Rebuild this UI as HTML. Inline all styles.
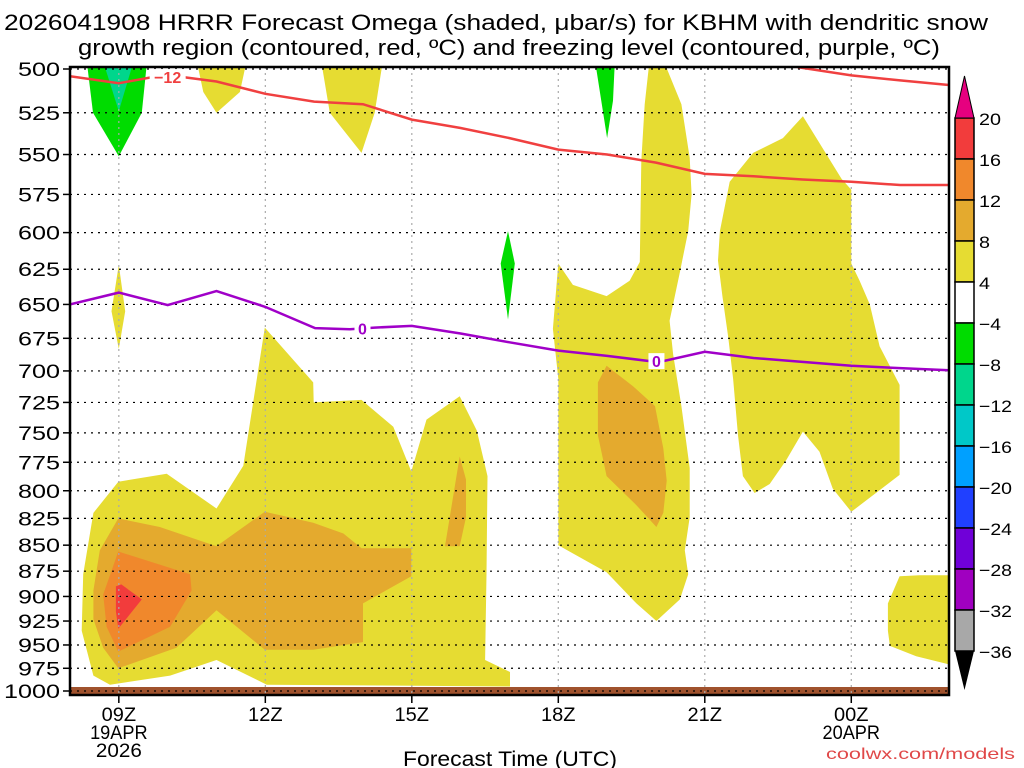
<!DOCTYPE html>
<html><head><meta charset="utf-8"><title>HRRR Omega KBHM</title>
<style>
html,body{margin:0;padding:0;background:#fff;}
svg{display:block;font-family:"Liberation Sans",sans-serif;}
</style></head>
<body>
<svg id="chart" width="1024" height="768" viewBox="0 0 1024 768" xmlns="http://www.w3.org/2000/svg">
<defs><clipPath id="plotclip"><rect x="70" y="67" width="879" height="628"/></clipPath></defs>
<g>
<text x="496" y="30" font-size="22" text-anchor="middle" textLength="984" lengthAdjust="spacingAndGlyphs">2026041908 HRRR Forecast Omega (shaded, μbar/s) for KBHM with dendritic snow</text>
<text x="509" y="55" font-size="22" text-anchor="middle" textLength="862" lengthAdjust="spacingAndGlyphs">growth region (contoured, red, ºC) and freezing level (contoured, purple, ºC)</text>
</g>
<g id="fills" clip-path="url(#plotclip)"></g>
<g id="grid"></g>
<g id="lines" clip-path="url(#plotclip)"></g>
<g id="axes"></g>
<g id="cbar"></g>
<text x="510" y="766" font-size="21" text-anchor="middle" textLength="214" lengthAdjust="spacingAndGlyphs">Forecast Time (UTC)</text>
<text x="1015" y="759" font-size="16" fill="#e04848" text-anchor="end" textLength="189" lengthAdjust="spacingAndGlyphs">coolwx.com/models</text>
</svg>
<script>
// ---- data (hours after 08Z, pressure hPa) ----
const pressureTicks = [500,525,550,575,600,625,650,675,700,725,750,775,800,825,850,875,900,925,950,975,1000];
const timeTicks = [1,4,7,10,13,16];
const timeLabels = [["09Z","19APR","2026"],["12Z"],["15Z"],["18Z"],["21Z"],["00Z","20APR"]];
const shadeLevels = [20,16,12,8,4,-4,-8,-12,-16,-20,-24,-28,-32,-36];
const shadeColors = ["#f23c3c","#f0882c","#e4aa2e","#e6dc32","#ffffff","#00dc00","#00d68c","#00c8c8","#00a0ff","#2040ff","#7000d8","#a000c0","#a8a8a8"];

const yellowA = [[0.27,878],[0.48,820],[0.99,792],[1.98,785],[3.0,816],[3.55,778],[3.99,667],[4.98,709],[4.99,725],[5.97,723],[6.62,745],[6.99,783],[7.30,739],[7.98,720],[8.33,748],[8.55,787],[8.53,878],[8.50,966],[9.01,979],[9.01,995],[4.03,993],[3.0,966],[2.05,983],[0.82,993],[0.48,983],[0.24,935]];
const yellowB = [[2.59,495],[3.62,495],[3.48,513],[3.0,525],[2.73,513]];
const yellowC = [[5.14,495],[6.41,495],[6.24,525],[5.97,549],[5.32,525]];
const yellowD = [[1.0,622],[1.13,655],[1.0,683],[0.85,655]];
const yellowE = [[11.87,495],[12.15,495],[12.52,520],[12.69,552],[12.73,575],[12.66,599],[12.49,627],[12.28,662],[12.35,687],[12.52,728],[12.69,780],[12.69,824],[12.59,855],[12.66,878],[12.49,903],[12.01,925],[11.60,907],[10.99,876],[10.0,850],[10.0,706],[9.89,668],[10.0,621],[10.30,636],[10.99,644],[11.46,633],[11.67,620],[11.70,554],[11.77,520]];
const yellowF = [[13.27,619],[13.31,599],[13.51,567],[13.99,549],[14.60,540],[15.01,527],[15.80,565],[16.00,572],[16.00,621],[16.17,633],[16.38,650],[16.58,681],[16.99,711],[16.99,786],[16.00,819],[15.62,798],[15.35,766],[15.01,749],[14.67,773],[14.33,794],[14.02,802],[13.78,787],[13.68,752],[13.58,706],[13.48,674],[13.36,644]];
const yellowG = [[16.75,907],[16.99,880],[17.40,879],[18.1,879],[18.1,972],[17.33,962],[16.79,951],[16.75,935]];
const amberA = [[0.48,894],[0.61,855],[0.99,825],[1.84,833],[3.0,851],[3.99,819],[4.98,829],[5.60,839],[5.97,853],[6.99,853],[6.99,880],[6.00,907],[6.00,947],[4.98,955],[3.99,955],[3.0,914],[2.18,953],[0.99,975],[0.68,953],[0.48,923]];
const amberB = [[7.68,851],[7.98,770],[8.11,790],[8.11,824],[7.98,851]];
const amberC = [[10.81,709],[10.99,696],[11.53,712],[11.98,728],[12.15,763],[12.22,791],[12.15,820],[12.01,833],[11.60,813],[10.99,787],[10.81,752]];
const orangeA = [[0.68,898],[0.99,856],[2.46,878],[2.49,894],[2.05,931],[0.99,957],[0.75,931]];
const redA = [[0.94,890],[1.05,888],[1.47,903],[0.99,933],[0.94,915]];
const greenA = [[0.34,495],[1.58,495],[1.47,525],[1.0,551],[0.47,525]];
const greenB = [[10.75,495],[11.16,495],[11.12,518],[11.0,540]];
const greenC = [[8.97,599],[9.11,621],[8.97,661],[8.82,621]];
const tealA = [[0.67,495],[1.31,495],[1.0,524]];

const red1Hours = [0,1,1.7,2.3,3,4,5,6,7,8,9,10,11,12,13,14,15,16,17,18];
const red1Press = [504,508,504.5,504.5,507,514,518.5,520,529,534,540,547,550,555,562,563.5,565.5,567,569,569];
const red2Hours = [14.9,16,17,18];
const red2Press = [499,503.6,506.4,509];
const frzHours = [0,1,2,3,4,5.02,5.73,6.24,7,8,9,10,11,11.87,12.15,13,14,15,16,17,18];
const frzPress = [650,641.5,650.5,640.4,651.8,667.4,668.3,667,665.7,671.4,678,684.3,688.4,692.4,692.4,685.2,690,693,696,697.8,699.5];

// ---- axis functions ----
const X0=70, PXH=48.83, Y0=69, YH=622;
function xs(h){return X0+h*PXH;}
function ys(p){return Y0+YH*Math.log(p/500)/Math.LN2;}
const NS="http://www.w3.org/2000/svg";
function mk(tag,attrs,parent){const e=document.createElementNS(NS,tag);for(const k in attrs)e.setAttribute(k,attrs[k]);parent.appendChild(e);return e;}
function pts(arr){return arr.map(d=>xs(d[0]).toFixed(1)+","+ys(d[1]).toFixed(1)).join(" ");}

const fills=document.getElementById("fills");
const shapes=[[yellowA,"#e6dc32","shade-yellow-low-left"],[yellowB,"#e6dc32","shade-yellow-top-1"],[yellowC,"#e6dc32","shade-yellow-top-2"],[yellowD,"#e6dc32","shade-yellow-small"],[yellowE,"#e6dc32","shade-yellow-18z"],[yellowF,"#e6dc32","shade-yellow-21z"],[yellowG,"#e6dc32","shade-yellow-right"],
[amberA,"#e4aa2e","shade-amber-low-left"],[amberB,"#e4aa2e","shade-amber-16z"],[amberC,"#e4aa2e","shade-amber-19z"],[orangeA,"#f0882c","shade-orange"],[redA,"#f23c3c","shade-red"],
[greenA,"#00dc00","shade-green-top"],[greenB,"#00dc00","shade-green-19z"],[greenC,"#00dc00","shade-green-17z"],[tealA,"#00d68c","shade-teal"]];
shapes.forEach(s=>{
  const el=mk("polygon",{points:pts(s[0]),fill:s[1]},fills);
  
  
});
const band=mk("rect",{x:70,y:687,width:879,height:8,fill:"#a0522d"},fills);



const grid=document.getElementById("grid");
pressureTicks.forEach(p=>{
  const l=mk("line",{x1:70,x2:949,y1:ys(p),y2:ys(p),stroke:"#000","stroke-width":1.2,"stroke-dasharray":"2 5"},grid);
  
  
});
timeTicks.forEach(h=>{
  const l=mk("line",{x1:xs(h),x2:xs(h),y1:67,y2:695,stroke:"#aaa","stroke-width":1.2,"stroke-dasharray":"2 4"},grid);
  
  
});

const lines=document.getElementById("lines");
function poly(hs,ps,color,name){
  const d=hs.map((h,i)=>xs(h).toFixed(1)+","+ys(ps[i]).toFixed(1)).join(" ");
  const el=mk("polyline",{points:d,fill:"none",stroke:color,"stroke-width":2.5},lines);
  
  
}
poly(red1Hours,red1Press,"#f04040","dgz-contour-minus-12");
poly(red2Hours,red2Press,"#f04040","dgz-contour-minus-18");
poly(frzHours,frzPress,"#a000c8","freezing-level-contour");
function clabel(h,p,txt,color,name){
  const g=mk("g",{},lines);
  
  
  mk("rect",{x:xs(h)-(txt.length*5+3),y:ys(p)-8,width:txt.length*10+6,height:16,fill:"#fff"},g);
  mk("text",{x:xs(h),y:ys(p)+6,"font-size":16,"font-weight":"bold",fill:color,"text-anchor":"middle"},g).textContent=txt;
}
clabel(2.0,504.5,"−12","#f04040","contour-label-minus-12");
clabel(5.99,667.5,"0","#a000c8","contour-label-0-a");
clabel(12.01,692.4,"0","#a000c8","contour-label-0-b");

const axes=document.getElementById("axes");
const fr=mk("rect",{x:70,y:67,width:879,height:628,fill:"none",stroke:"#000","stroke-width":2.5},axes);


pressureTicks.forEach(p=>{
  mk("line",{x1:63,x2:70,y1:ys(p),y2:ys(p),stroke:"#000","stroke-width":1.5},axes);
  const s=String(p);
  const t=mk("text",{x:60,y:ys(p)+7,"font-size":19,"text-anchor":"end",textLength:s.length*14,lengthAdjust:"spacingAndGlyphs"},axes);
  t.textContent=s;
  
  
});
timeTicks.forEach((h,i)=>{
  mk("line",{x1:xs(h),x2:xs(h),y1:695,y2:703,stroke:"#000","stroke-width":1.5},axes);
  timeLabels[i].forEach((s,j)=>{
    const t=mk("text",{x:xs(h),y:721+j*18,"font-size":19,"text-anchor":"middle",textLength:s.length*11.5,lengthAdjust:"spacingAndGlyphs"},axes);
    t.textContent=s;
    
    
  });
});

const cb=document.getElementById("cbar");
const CBX=955, CBW=19, CBT=118, CBS=41;
shadeColors.forEach((c,i)=>{
  const r=mk("rect",{x:CBX,y:CBT+i*CBS,width:CBW,height:CBS,fill:c,stroke:"#000","stroke-width":1.5},cb);
  
  
});
const up=mk("polygon",{points:`${CBX},${CBT} ${CBX+CBW},${CBT} ${CBX+CBW/2},76`,fill:"#e6007f",stroke:"#000","stroke-width":1},cb);


const dn=mk("polygon",{points:`${CBX},${CBT+13*CBS} ${CBX+CBW},${CBT+13*CBS} ${CBX+CBW/2},690`,fill:"#000"},cb);


shadeLevels.forEach((v,i)=>{
  const s=v<0?"−"+(-v):String(v);
  const t=mk("text",{x:979,y:CBT+i*CBS+7,"font-size":17,textLength:s.length*11,lengthAdjust:"spacingAndGlyphs"},cb);
  t.textContent=s;
  
  
});
</script>
</body></html>
